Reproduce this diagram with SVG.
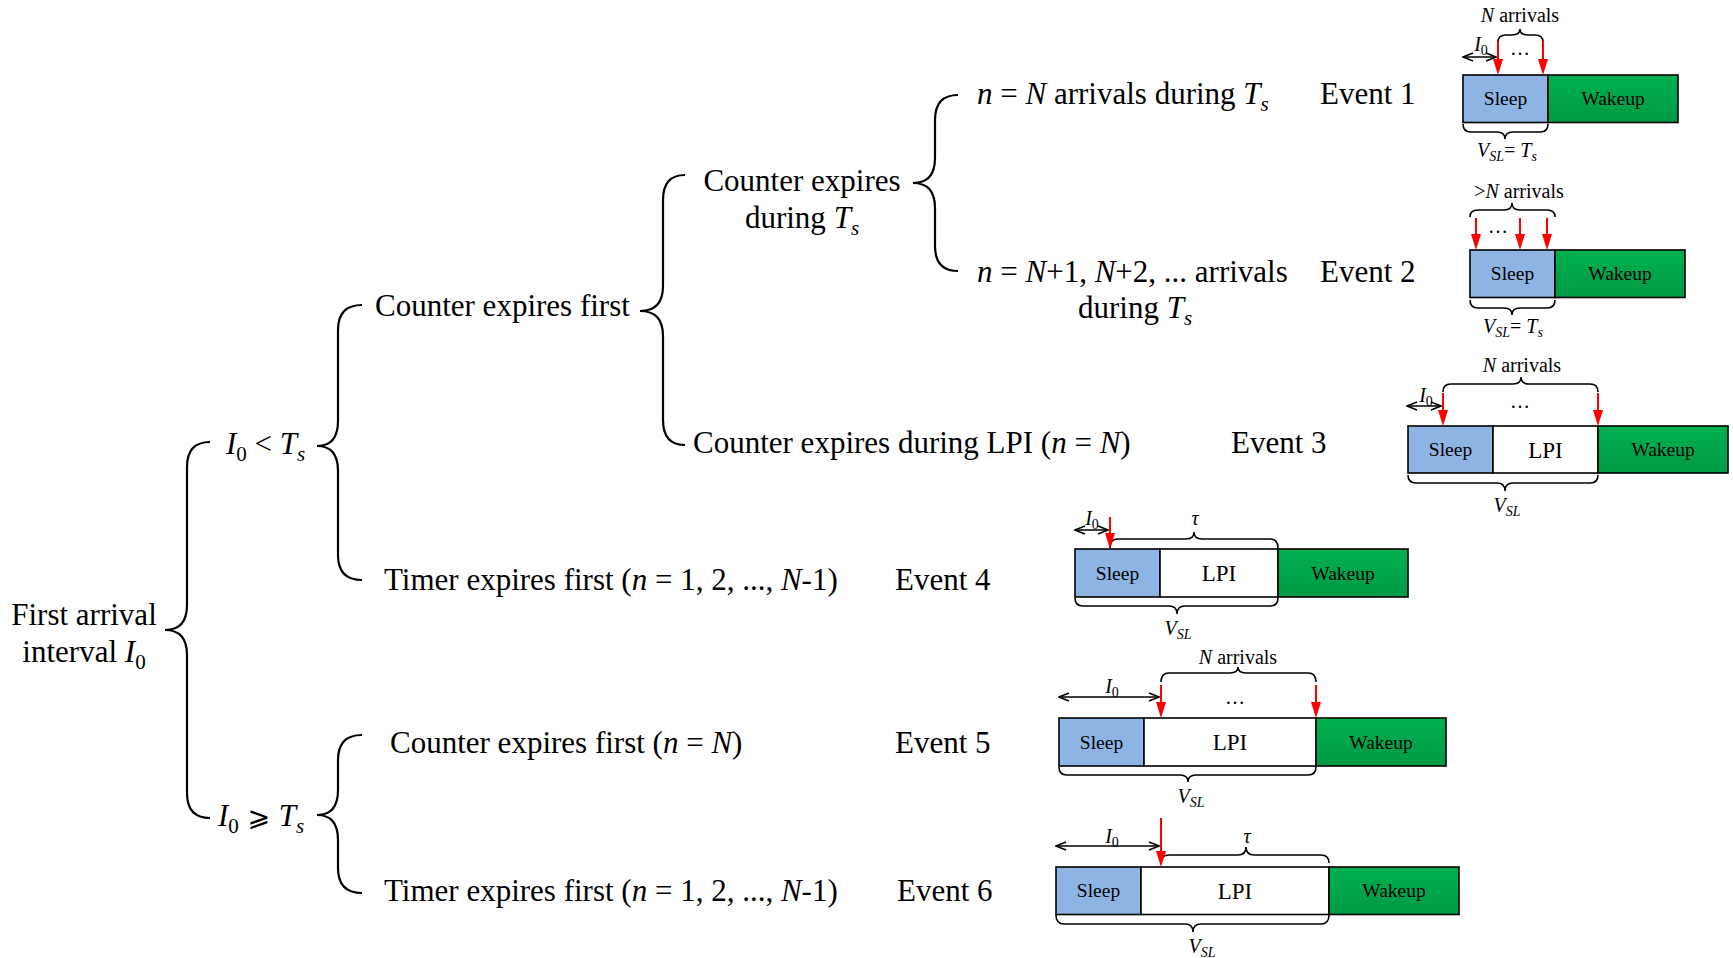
<svg xmlns="http://www.w3.org/2000/svg" width="1733" height="958" viewBox="0 0 1733 958">
<style>
.t{font-family:"Liberation Serif","Times New Roman","DejaVu Serif",serif;font-size:31px;fill:#000}
.s{font-family:"Liberation Serif","Times New Roman",serif;font-size:20px;fill:#000}
.box{font-family:"Liberation Serif","Times New Roman",serif;font-size:19.5px;fill:#000;text-anchor:middle}
.lpi{font-family:"Liberation Serif","Times New Roman",serif;font-size:23px;fill:#000;text-anchor:middle}
.i{font-style:italic}
.br{fill:none;stroke:#000;stroke-width:2.2}
.sb{fill:none;stroke:#000;stroke-width:1.6}
.red{stroke:#f00;stroke-width:2;marker-end:url(#rh)}
.dbl{stroke:#000;stroke-width:1.5;marker-start:url(#bh);marker-end:url(#bh)}
.sl{fill:#8EB4E3;stroke:#000;stroke-width:1.6}
.lp{fill:#fff;stroke:#000;stroke-width:1.6}
.wk{fill:url(#gw);stroke:#000;stroke-width:1.6}
</style>
<defs>
<linearGradient id="gw" x1="0" y1="0" x2="0" y2="1">
<stop offset="0" stop-color="#00B050"/><stop offset="1" stop-color="#009A45"/>
</linearGradient>
<marker id="rh" viewBox="0 0 16 10" markerWidth="16" markerHeight="10" refX="8" refY="5" orient="auto" markerUnits="userSpaceOnUse">
<path d="M0,0 L16,5 L0,10 z" fill="#f00"/>
</marker>
<marker id="bh" viewBox="-1 -1 12 10" markerWidth="12" markerHeight="10" refX="10" refY="4" orient="auto-start-reverse" markerUnits="userSpaceOnUse">
<path d="M0,0 L10,4 L0,8" fill="none" stroke="#000" stroke-width="1.5"/>
</marker>
</defs>
<rect width="1733" height="958" fill="#fff"/>

<g id="connectors">
<path class="br" d="M210,442 Q187,442 187,467 L187,605 Q187,630 165,630 Q187,630 187,655 L187,793 Q187,818 210,818"/>
<path class="br" d="M362,305 Q338,305 338,330 L338,421 Q338,446 317,446 Q338,446 338,471 L338,555 Q338,580 362,580"/>
<path class="br" d="M685,175 Q663,175 663,200 L663,286 Q663,311 640,311 Q663,311 663,336 L663,420 Q663,445 685,445"/>
<path class="br" d="M958,95 Q935,95 935,120 L935,158 Q935,183 913,183 Q935,183 935,208 L935,246 Q935,271 958,271"/>
<path class="br" d="M362,735 Q338,735 338,760 L338,790 Q338,815 317,815 Q338,815 338,840 L338,868 Q338,893 362,893"/>
</g>

<g id="n-first-arrival">
<text class="t" x="84" y="625" text-anchor="middle">First arrival</text>
<text class="t" x="84" y="662" text-anchor="middle">interval <tspan class="i">I</tspan><tspan font-size="21" dy="7">0</tspan></text>
</g>
<g id="n-i0-lt-ts">
<text class="t" x="226" y="454"><tspan class="i">I</tspan><tspan font-size="21" dy="7">0</tspan><tspan dy="-7"> &lt; </tspan><tspan class="i">T</tspan><tspan class="i" font-size="21" dy="7">s</tspan></text>
</g>
<g id="n-i0-ge-ts">
<text class="t" x="218" y="826"><tspan class="i">I</tspan><tspan font-size="21" dy="7">0</tspan><tspan dy="-7" font-family="'DejaVu Serif','DejaVu Sans',serif" font-size="27"> ⩾ </tspan><tspan class="i">T</tspan><tspan class="i" font-size="21" dy="7">s</tspan></text>
</g>
<g id="n-counter-first">
<text class="t" x="375" y="316">Counter expires first</text>
</g>
<g id="n-timer-first-1">
<text class="t" x="384" y="590">Timer expires first (<tspan class="i">n</tspan> = 1, 2, ..., <tspan class="i">N</tspan>-1)</text>
</g>
<g id="n-counter-ts">
<text class="t" x="802" y="191" text-anchor="middle">Counter expires</text>
<text class="t" x="802" y="228" text-anchor="middle">during <tspan class="i">T</tspan><tspan class="i" font-size="21" dy="7">s</tspan></text>
</g>
<g id="n-counter-lpi">
<text class="t" x="693" y="453">Counter expires during LPI (<tspan class="i">n</tspan> = <tspan class="i">N</tspan>)</text>
</g>
<g id="n-n-eq-N">
<text class="t" x="977" y="104"><tspan class="i">n</tspan> = <tspan class="i">N</tspan> arrivals during <tspan class="i">T</tspan><tspan class="i" font-size="21" dy="7">s</tspan></text>
</g>
<g id="n-n-gt-N">
<text class="t" x="977" y="282"><tspan class="i">n</tspan> = <tspan class="i">N</tspan>+1, <tspan class="i">N</tspan>+2, ... arrivals</text>
<text class="t" x="1078" y="318">during <tspan class="i">T</tspan><tspan class="i" font-size="21" dy="7">s</tspan></text>
</g>
<g id="n-counter-first-N">
<text class="t" x="390" y="753">Counter expires first (<tspan class="i">n</tspan> = <tspan class="i">N</tspan>)</text>
</g>
<g id="n-timer-first-2">
<text class="t" x="384" y="901">Timer expires first (<tspan class="i">n</tspan> = 1, 2, ..., <tspan class="i">N</tspan>-1)</text>
</g>

<g id="event-labels">
<text class="t" x="1320" y="104">Event 1</text>
<text class="t" x="1320" y="282">Event 2</text>
<text class="t" x="1231" y="453">Event 3</text>
<text class="t" x="895" y="590">Event 4</text>
<text class="t" x="895" y="753">Event 5</text>
<text class="t" x="897" y="901">Event 6</text>
</g>

<!-- Event 1 timing -->
<g id="d1">
<rect class="sl" x="1463" y="75" width="85" height="47.5"/>
<rect class="wk" x="1548" y="75" width="130" height="47.5"/>
<text class="box" x="1505.5" y="105">Sleep</text>
<text class="box" x="1613" y="105">Wakeup</text>
<path class="sb" d="M1498,42 Q1498,35 1506,35 L1512,35 Q1520,35 1520,29 Q1520,35 1528,35 L1535,35 Q1543,35 1543,42"/>
<path class="sb" d="M1463,124 Q1463,132 1471,132 L1497,132 Q1505,132 1505,139 Q1505,132 1513,132 L1540,132 Q1548,132 1548,124"/>
<line class="red" x1="1498" y1="41" x2="1498" y2="67"/>
<line class="red" x1="1543" y1="41" x2="1543" y2="67"/>
<line class="dbl" x1="1463" y1="57" x2="1496" y2="57"/>
<text class="s" x="1481" y="51" text-anchor="middle"><tspan class="i">I</tspan><tspan font-size="14" dy="4">0</tspan></text>
<text class="s" x="1520" y="55" text-anchor="middle" font-size="18">…</text>
<text class="s" x="1520" y="22" text-anchor="middle" font-size="21"><tspan class="i">N</tspan> arrivals</text>
<text class="s" x="1507" y="157" text-anchor="middle"><tspan class="i">V</tspan><tspan class="i" font-size="14" dy="4">SL</tspan><tspan dy="-4">= </tspan><tspan class="i">T</tspan><tspan class="i" font-size="14" dy="4">s</tspan></text>
</g>

<!-- Event 2 timing -->
<g id="d2">
<rect class="sl" x="1470" y="250" width="85" height="47.5"/>
<rect class="wk" x="1555" y="250" width="130" height="47.5"/>
<text class="box" x="1512.5" y="280">Sleep</text>
<text class="box" x="1620" y="280">Wakeup</text>
<path class="sb" d="M1470,217 Q1470,210 1478,210 L1504,210 Q1512,210 1512,203 Q1512,210 1520,210 L1547,210 Q1555,210 1555,217"/>
<path class="sb" d="M1470,300 Q1470,308 1478,308 L1504,308 Q1512,308 1512,315 Q1512,308 1520,308 L1547,308 Q1555,308 1555,300"/>
<line class="red" x1="1476" y1="218" x2="1476" y2="242"/>
<line class="red" x1="1520" y1="218" x2="1520" y2="242"/>
<line class="red" x1="1547" y1="218" x2="1547" y2="242"/>
<text class="s" x="1498" y="233" text-anchor="middle" font-size="18">…</text>
<text class="s" x="1519" y="198" text-anchor="middle" font-size="21">&gt;<tspan class="i">N</tspan> arrivals</text>
<text class="s" x="1513" y="333" text-anchor="middle"><tspan class="i">V</tspan><tspan class="i" font-size="14" dy="4">SL</tspan><tspan dy="-4">= </tspan><tspan class="i">T</tspan><tspan class="i" font-size="14" dy="4">s</tspan></text>
</g>

<!-- Event 3 timing -->
<g id="d3">
<rect class="sl" x="1408" y="426" width="85" height="47"/>
<rect class="lp" x="1493" y="426" width="105" height="47"/>
<rect class="wk" x="1598" y="426" width="130" height="47"/>
<text class="box" x="1450.5" y="456">Sleep</text>
<text class="lpi" x="1545.5" y="458">LPI</text>
<text class="box" x="1663" y="456">Wakeup</text>
<path class="sb" d="M1443,392 Q1443,384 1451,384 L1513,384 Q1521,384 1521,377 Q1521,384 1529,384 L1590,384 Q1598,384 1598,392"/>
<path class="sb" d="M1408,475 Q1408,483 1416,483 L1497,483 Q1505,483 1505,491 Q1505,483 1513,483 L1590,483 Q1598,483 1598,475"/>
<line class="red" x1="1443" y1="393" x2="1443" y2="418"/>
<line class="red" x1="1598" y1="393" x2="1598" y2="418"/>
<line class="dbl" x1="1407" y1="406" x2="1441" y2="406"/>
<text class="s" x="1426" y="402" text-anchor="middle"><tspan class="i">I</tspan><tspan font-size="14" dy="4">0</tspan></text>
<text class="s" x="1520" y="408" text-anchor="middle" font-size="18">…</text>
<text class="s" x="1522" y="372" text-anchor="middle" font-size="21"><tspan class="i">N</tspan> arrivals</text>
<text class="s" x="1507" y="512" text-anchor="middle"><tspan class="i">V</tspan><tspan class="i" font-size="14" dy="4">SL</tspan></text>
</g>

<!-- Event 4 timing -->
<g id="d4">
<rect class="sl" x="1075" y="549" width="85" height="48"/>
<rect class="lp" x="1160" y="549" width="118" height="48"/>
<rect class="wk" x="1278" y="549" width="130" height="48"/>
<text class="box" x="1117.5" y="579.5">Sleep</text>
<text class="lpi" x="1219" y="581">LPI</text>
<text class="box" x="1343" y="579.5">Wakeup</text>
<path class="sb" d="M1110,548 Q1110,539 1118,539 L1186,539 Q1194,539 1194,532 Q1194,539 1202,539 L1270,539 Q1278,539 1278,548"/>
<path class="sb" d="M1075,598 Q1075,606 1083,606 L1169,606 Q1177,606 1177,614 Q1177,606 1185,606 L1270,606 Q1278,606 1278,598"/>
<line class="red" x1="1110" y1="517" x2="1110" y2="541"/>
<line class="dbl" x1="1075" y1="530" x2="1108" y2="530"/>
<text class="s" x="1092" y="525" text-anchor="middle"><tspan class="i">I</tspan><tspan font-size="14" dy="4">0</tspan></text>
<text class="s i" x="1195" y="525" text-anchor="middle">τ</text>
<text class="s" x="1178" y="635" text-anchor="middle"><tspan class="i">V</tspan><tspan class="i" font-size="14" dy="4">SL</tspan></text>
</g>

<!-- Event 5 timing -->
<g id="d5">
<rect class="sl" x="1059" y="718" width="85" height="48"/>
<rect class="lp" x="1144" y="718" width="172" height="48"/>
<rect class="wk" x="1316" y="718" width="130" height="48"/>
<text class="box" x="1101.5" y="748.5">Sleep</text>
<text class="lpi" x="1230" y="750">LPI</text>
<text class="box" x="1381" y="748.5">Wakeup</text>
<path class="sb" d="M1161,682 Q1161,673 1169,673 L1230,673 Q1238,673 1238,667 Q1238,673 1246,673 L1308,673 Q1316,673 1316,682"/>
<path class="sb" d="M1059,767 Q1059,775 1067,775 L1180,775 Q1188,775 1188,782 Q1188,775 1196,775 L1308,775 Q1316,775 1316,767"/>
<line class="red" x1="1161" y1="685" x2="1161" y2="710"/>
<line class="red" x1="1316" y1="685" x2="1316" y2="710"/>
<line class="dbl" x1="1059" y1="697" x2="1159" y2="697"/>
<text class="s" x="1112" y="693" text-anchor="middle"><tspan class="i">I</tspan><tspan font-size="14" dy="4">0</tspan></text>
<text class="s" x="1235" y="704" text-anchor="middle" font-size="18">…</text>
<text class="s" x="1238" y="664" text-anchor="middle" font-size="21"><tspan class="i">N</tspan> arrivals</text>
<text class="s" x="1191" y="803" text-anchor="middle"><tspan class="i">V</tspan><tspan class="i" font-size="14" dy="4">SL</tspan></text>
</g>

<!-- Event 6 timing -->
<g id="d6">
<rect class="sl" x="1056" y="867" width="85" height="47.5"/>
<rect class="lp" x="1141" y="867" width="188" height="47.5"/>
<rect class="wk" x="1329" y="867" width="130" height="47.5"/>
<text class="box" x="1098.5" y="897">Sleep</text>
<text class="lpi" x="1235" y="899">LPI</text>
<text class="box" x="1394" y="897">Wakeup</text>
<path class="sb" d="M1161,863 Q1161,855 1169,855 L1238,855 Q1246,855 1246,847 Q1246,855 1254,855 L1321,855 Q1329,855 1329,863"/>
<path class="sb" d="M1056,915 Q1056,924 1064,924 L1185,924 Q1193,924 1193,932 Q1193,924 1201,924 L1321,924 Q1329,924 1329,915"/>
<line class="red" x1="1161" y1="818" x2="1161" y2="859"/>
<line class="dbl" x1="1056" y1="846" x2="1159" y2="846"/>
<text class="s" x="1112" y="843" text-anchor="middle"><tspan class="i">I</tspan><tspan font-size="14" dy="4">0</tspan></text>
<text class="s i" x="1247" y="843" text-anchor="middle">τ</text>
<text class="s" x="1202" y="953" text-anchor="middle"><tspan class="i">V</tspan><tspan class="i" font-size="14" dy="4">SL</tspan></text>
</g>
</svg>
